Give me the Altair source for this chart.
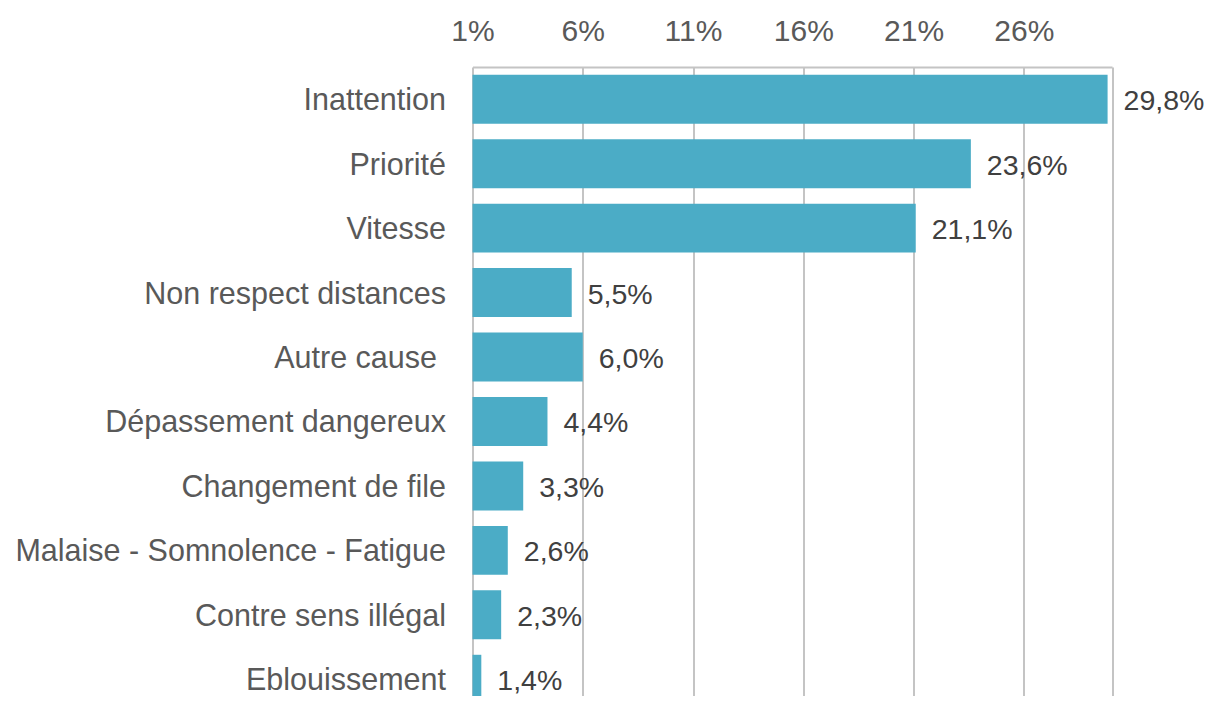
import altair as alt
import pandas as pd

causes = [
    "Inattention",
    "Priorité",
    "Vitesse",
    "Non respect distances",
    "Autre cause ",
    "Dépassement dangereux",
    "Changement de file",
    "Malaise - Somnolence - Fatigue",
    "Contre sens illégal",
    "Eblouissement",
]
shares = [29.8, 23.6, 21.1, 5.5, 6.0, 4.4, 3.3, 2.6, 2.3, 1.4]
tick_values = [1, 6, 11, 16, 21, 26]
axis_min, axis_max = 1, 30

labels = [f"{v:.1f}%".replace(".", ",") for v in shares]
df = pd.DataFrame({"cause": causes, "share": shares, "label": labels})

FONT = "Liberation Sans"
GRID = "#C4C4C4"

x_scale = alt.Scale(domain=[axis_min, axis_max], nice=False, zero=False)
y_scale = alt.Scale(paddingInner=0.24, paddingOuter=0.12, range=[0, 644.5])

# grid at the axis ends draws the left / right borders of the plot box
grid_values = tick_values + [axis_max]
x_axis = alt.Axis(
    orient="top", values=grid_values,
    labelExpr=f"datum.value == {axis_max} ? '' : datum.value + '%'", title=None,
    domain=True, domainColor=GRID, domainWidth=2,
    ticks=False, grid=True, gridColor=GRID, gridWidth=2,
    labelFontSize=30, labelColor="#595959", labelPadding=21, labelFont=FONT,
    labelFlush=False, labelOverlap=False,
)
# the source label "Autre cause " carries a trailing space, so it sits further left
y_axis = alt.Axis(
    title=None, domain=False, ticks=False, labelFontSize=30.5, labelColor="#595959",
    labelPadding={"condition": {"test": "trim(datum.value) != datum.value", "value": 36}, "value": 27},
    labelOffset=2, labelFont=FONT, labelLimit=0,
)

bars = alt.Chart(df).mark_bar(color="#4BACC6").encode(
    x=alt.X("share:Q", scale=x_scale, axis=x_axis),
    x2=alt.datum(axis_min),
    y=alt.Y("cause:N", sort=causes, scale=y_scale, axis=y_axis),
)

text = alt.Chart(df).mark_text(
    align="left", baseline="middle", dx=16, dy=2, fontSize=28.5, color="#404040", font=FONT
).encode(
    x=alt.X("share:Q", scale=x_scale),
    y=alt.Y("cause:N", sort=causes, scale=y_scale),
    text="label:N",
)

chart = (
    alt.layer(bars, text)
    .properties(
        width=639.5,
        height=629,
        autosize=alt.AutoSizeParams(type="none"),
        padding={"left": 464.5, "top": 59, "right": 94, "bottom": 0},
    )
    .configure_view(stroke="transparent")
)

chart.save("out.html", embed_options={"renderer": "svg", "actions": False})
